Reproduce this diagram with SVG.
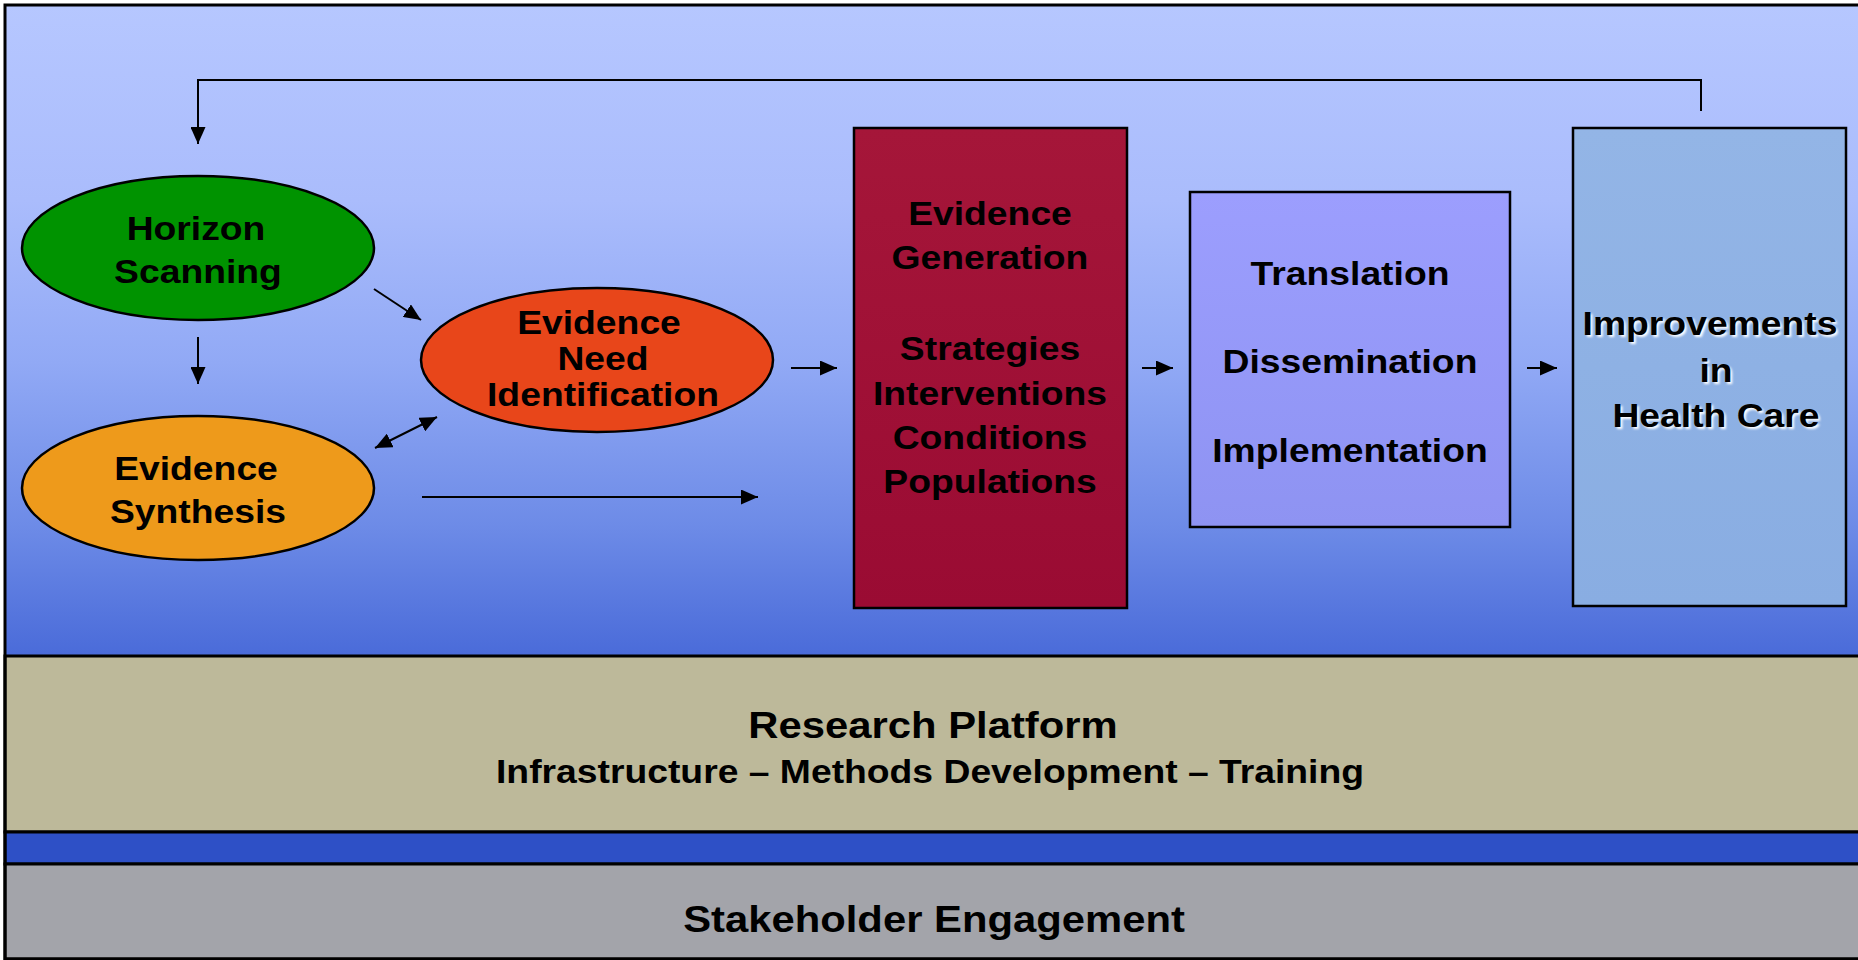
<svg xmlns="http://www.w3.org/2000/svg" width="1858" height="960" viewBox="0 0 1858 960">
  <defs>
    <linearGradient id="bg" x1="0" y1="0" x2="0" y2="1">
      <stop offset="0" stop-color="#b6c7ff"/>
      <stop offset="0.3" stop-color="#aabcfc"/>
      <stop offset="0.55" stop-color="#91a9f5"/>
      <stop offset="0.8" stop-color="#6d8be7"/>
      <stop offset="1" stop-color="#4a6bd9"/>
    </linearGradient>
    <linearGradient id="egFill" x1="0" y1="0" x2="0" y2="1">
      <stop offset="0" stop-color="#a51639"/>
      <stop offset="1" stop-color="#9a0b33"/>
    </linearGradient>
    <linearGradient id="tdiFill" x1="0" y1="0" x2="0" y2="1">
      <stop offset="0" stop-color="#9c9efe"/>
      <stop offset="1" stop-color="#8e93f2"/>
    </linearGradient>
    <linearGradient id="impFill" x1="0" y1="0" x2="0" y2="1">
      <stop offset="0" stop-color="#93b5e6"/>
      <stop offset="1" stop-color="#89ade2"/>
    </linearGradient>
    <filter id="soft" x="-10%" y="-30%" width="120%" height="160%">
      <feGaussianBlur stdDeviation="1"/>
    </filter>
    <marker id="ah" viewBox="0 0 17 15" refX="17" refY="7.5" markerWidth="17" markerHeight="15" markerUnits="userSpaceOnUse" orient="auto-start-reverse">
      <path d="M0,0 L17,7.5 L0,15 z" fill="#000"/>
    </marker>
    <style>
      .t { font-family: "Liberation Sans", Arial, sans-serif; font-weight: bold; font-size: 33px; fill: #000; text-anchor: middle; }
      .big { font-size: 37px; }
      .shadow { fill: #ffffff; filter: url(#soft); }
      .shape { stroke: #000; stroke-width: 2.5; }
      .conn { stroke: #000; stroke-width: 2; fill: none; }
      .band { stroke: #000; stroke-width: 3; }
    </style>
  </defs>

  <!-- background frame -->
  <rect x="5" y="5" width="1870" height="651" fill="url(#bg)"/>
  <g id="research-platform">
    <rect x="5" y="656" width="1870" height="176" fill="#bdb99a" class="band"/>
    <text class="t big" transform="translate(933 0) scale(1.13 1)" y="738">Research Platform</text>
    <text class="t" transform="translate(930 0) scale(1.13 1)" y="783">Infrastructure – Methods Development – Training</text>
  </g>
  <rect x="5" y="832" width="1870" height="32" fill="#2e50c6" class="band"/>
  <g id="stakeholder-engagement">
    <rect x="5" y="864" width="1870" height="95" fill="#a3a4aa" class="band"/>
    <text class="t big" transform="translate(934 0) scale(1.13 1)" y="932">Stakeholder Engagement</text>
  </g>
  <rect x="5" y="5" width="1870" height="954" fill="none" stroke="#000" stroke-width="3"/>

  <g id="horizon-scanning">
    <ellipse cx="198" cy="248" rx="176" ry="72" fill="#009300" class="shape"/>
    <text class="t" transform="translate(196 0) scale(1.13 1)" y="240">Horizon</text>
    <text class="t" transform="translate(198 0) scale(1.13 1)" y="283">Scanning</text>
  </g>

  <g id="evidence-synthesis">
    <ellipse cx="198" cy="488" rx="176" ry="72" fill="#ee9a1b" class="shape"/>
    <text class="t" transform="translate(196 0) scale(1.13 1)" y="480">Evidence</text>
    <text class="t" transform="translate(198 0) scale(1.13 1)" y="523">Synthesis</text>
  </g>

  <g id="evidence-need-identification">
    <ellipse cx="597" cy="360" rx="176" ry="72" fill="#e8461a" class="shape"/>
    <text class="t" transform="translate(599 0) scale(1.13 1)" y="334">Evidence</text>
    <text class="t" transform="translate(603 0) scale(1.13 1)" y="370">Need</text>
    <text class="t" transform="translate(603 0) scale(1.13 1)" y="406">Identification</text>
  </g>

  <g id="evidence-generation">
    <rect x="854" y="128" width="273" height="480" fill="url(#egFill)" class="shape"/>
    <text class="t" transform="translate(990 0) scale(1.13 1)" y="225">Evidence</text>
    <text class="t" transform="translate(990 0) scale(1.13 1)" y="269">Generation</text>
    <text class="t" transform="translate(990 0) scale(1.13 1)" y="360">Strategies</text>
    <text class="t" transform="translate(990 0) scale(1.13 1)" y="405">Interventions</text>
    <text class="t" transform="translate(990 0) scale(1.13 1)" y="449">Conditions</text>
    <text class="t" transform="translate(990 0) scale(1.13 1)" y="493">Populations</text>
  </g>

  <g id="translation">
    <rect x="1190" y="192" width="320" height="335" fill="url(#tdiFill)" class="shape"/>
    <text class="t" transform="translate(1350 0) scale(1.13 1)" y="285">Translation</text>
    <text class="t" transform="translate(1350 0) scale(1.13 1)" y="373">Dissemination</text>
    <text class="t" transform="translate(1350 0) scale(1.13 1)" y="462">Implementation</text>
  </g>

  <g id="improvements">
    <rect x="1573" y="128" width="273" height="478" fill="url(#impFill)" class="shape"/>
    <text class="t shadow" transform="translate(1712 0) scale(1.13 1)" y="337">Improvements</text>
    <text class="t shadow" transform="translate(1718 0) scale(1.13 1)" y="384">in</text>
    <text class="t shadow" transform="translate(1718 0) scale(1.13 1)" y="429">Health Care</text>
    <text class="t" transform="translate(1710 0) scale(1.13 1)" y="335">Improvements</text>
    <text class="t" transform="translate(1716 0) scale(1.13 1)" y="382">in</text>
    <text class="t" transform="translate(1716 0) scale(1.13 1)" y="427">Health Care</text>
  </g>

  <g id="connectors">
    <path class="conn" d="M1701,111 L1701,80 L198,80 L198,144" marker-end="url(#ah)"/>
    <path class="conn" d="M198,337 L198,384" marker-end="url(#ah)"/>
    <path class="conn" d="M374,289 L421,320" marker-end="url(#ah)"/>
    <path class="conn" d="M375,448 L437,417" marker-start="url(#ah)" marker-end="url(#ah)"/>
    <path class="conn" d="M422,497 L758,497" marker-end="url(#ah)"/>
    <path class="conn" d="M791,368 L837,368" marker-end="url(#ah)"/>
    <path class="conn" d="M1142,368 L1173,368" marker-end="url(#ah)"/>
    <path class="conn" d="M1527,368 L1557,368" marker-end="url(#ah)"/>
  </g>
</svg>
